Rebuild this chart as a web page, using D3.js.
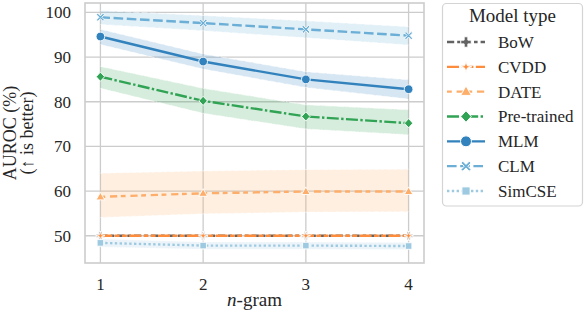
<!DOCTYPE html>
<html>
<head>
<meta charset="utf-8">
<script src="https://cdn.jsdelivr.net/npm/d3@7"></script>
<style>
  body { margin: 0; background: #fff; }
</style>
</head>
<body>
<svg id="chart" width="584" height="312"></svg>
<script>
// n-gram sizes
var ngrams = [1, 2, 3, 4];
var yTicks = [50, 60, 70, 80, 90, 100];
var modelTypes = ["BoW", "CVDD", "DATE", "Pre-trained", "MLM", "CLM", "SimCSE"];

// mean AUROC per model type
var bowMean = [50.0, 50.0, 50.0, 50.0];
var cvddMean = [50.0, 50.0, 50.0, 50.0];
var dateMean = [58.7, 59.5, 59.9, 59.9];
var pretrainedMean = [85.6, 80.2, 76.7, 75.2];
var mlmMean = [94.6, 89.0, 85.0, 82.8];
var clmMean = [98.9, 97.6, 96.2, 94.8];
var simcseMean = [48.4, 47.8, 47.8, 47.7];

// error band lower / upper
var bowLo = [50.0, 50.0, 50.0, 50.0], bowHi = [50.0, 50.0, 50.0, 50.0];
var cvddLo = [50.0, 50.0, 50.0, 50.0], cvddHi = [50.0, 50.0, 50.0, 50.0];
var dateLo = [54.1, 54.9, 55.3, 55.4], dateHi = [64.0, 64.5, 64.8, 64.9];
var pretrainedLo = [83.0, 77.4, 73.9, 72.6], pretrainedHi = [87.9, 83.0, 79.3, 78.2];
var mlmLo = [92.8, 87.3, 83.2, 80.6], mlmHi = [96.2, 90.7, 86.7, 84.9];
var clmLo = [97.3, 95.9, 94.3, 92.7], clmHi = [100.4, 99.3, 98.1, 96.8];
var simcseLo = [47.5, 47.0, 47.0, 46.9], simcseHi = [49.3, 48.6, 48.6, 48.5];

var series = [
  {name: "BoW", mean: bowMean, lo: bowLo, hi: bowHi, color: "#636363", dash: [3, 1.25, 1.5, 1.25], marker: "plus"},
  {name: "CVDD", mean: cvddMean, lo: cvddLo, hi: cvddHi, color: "#fd8d3c", dash: [5, 1, 2, 1, 2, 1], marker: "star"},
  {name: "DATE", mean: dateMean, lo: dateLo, hi: dateHi, color: "#fdae6b", dash: [2, 2, 3, 1.5], marker: "triangle"},
  {name: "Pre-trained", mean: pretrainedMean, lo: pretrainedLo, hi: pretrainedHi, color: "#31a354", dash: [5, 1, 1, 1], marker: "diamond"},
  {name: "MLM", mean: mlmMean, lo: mlmLo, hi: mlmHi, color: "#3182bd", dash: null, marker: "circle"},
  {name: "CLM", mean: clmMean, lo: clmLo, hi: clmHi, color: "#6baed6", dash: [4, 1.5], marker: "cross"},
  {name: "SimCSE", mean: simcseMean, lo: simcseLo, hi: simcseHi, color: "#9ecae1", dash: [1, 1], marker: "square"}
];

var FONT = "'Liberation Serif', 'Times New Roman', serif";
var svg = d3.select("#chart");
var lw = 2.4;
var gridColor = "#cccccc";
var textColor = "#262626";

var x = d3.scaleLinear().domain([0.85, 4.15]).range([85, 424]);
var y = d3.scaleLinear().domain([43.9, 102.1]).range([263, 3]);

// inline text styling
function styleText(sel, size) {
  return sel.style("font-family", FONT).style("font-size", size + "px").style("fill", textColor);
}

function dashStr(d, w) {
  if (!d) return null;
  return d.map(function(v){ return v * w; }).join(",");
}

// marker path for a given shape, centered at 0,0
function markerPath(shape) {
  switch (shape) {
    case "circle": return d3.symbol(d3.symbolCircle, 60)();
    case "square": return "M-3.3,-3.3L3.3,-3.3L3.3,3.3L-3.3,3.3Z";
    case "triangle": return "M0,-4.6L4.3,3L-4.3,3Z";
    case "diamond": return "M0,-4.6L4.2,0L0,4.6L-4.2,0Z";
    case "cross": return "M-4,-2.6L-2.6,-4L0,-1.4L2.6,-4L4,-2.6L1.4,0L4,2.6L2.6,4L0,1.4L-2.6,4L-4,2.6L-1.4,0Z";
    case "plus": return "M-1.5,-4.2L1.5,-4.2L1.5,-1.5L4.2,-1.5L4.2,1.5L1.5,1.5L1.5,4.2L-1.5,4.2L-1.5,1.5L-4.2,1.5L-4.2,-1.5L-1.5,-1.5Z";
    case "star": return "M0,-4.6L1,-1L4.6,0L1,1L0,4.6L-1,1L-4.6,0L-1,-1Z";
  }
}

// grid
var grid = svg.append("g");
grid.selectAll(".gx").data(ngrams).enter().append("line")
  .attr("x1", function(d){ return x(d); }).attr("x2", function(d){ return x(d); })
  .attr("y1", 3).attr("y2", 263)
  .attr("stroke", gridColor).attr("stroke-width", 1.3);
grid.selectAll(".gy").data(yTicks).enter().append("line")
  .attr("y1", function(d){ return y(d); }).attr("y2", function(d){ return y(d); })
  .attr("x1", 85).attr("x2", 424)
  .attr("stroke", gridColor).attr("stroke-width", 1.3);

// bands
var bandArea = d3.area()
  .x(function(d){ return x(d.x); })
  .y0(function(d){ return y(d.lo); })
  .y1(function(d){ return y(d.hi); });
var edgeLine = d3.line().x(function(d){ return x(d.x); }).y(function(d){ return y(d.v); });

series.forEach(function(s){
  var pts = ngrams.map(function(n, i){ return {x: n, lo: s.lo[i], hi: s.hi[i]}; });
  if (d3.max(pts, function(p){ return p.hi - p.lo; }) <= 0) return;
  svg.append("path").datum(pts)
    .attr("d", bandArea)
    .attr("fill", s.color).attr("fill-opacity", 0.2);
  ["lo", "hi"].forEach(function(k){
    svg.append("path")
      .datum(ngrams.map(function(n, i){ return {x: n, v: s[k][i]}; }))
      .attr("d", edgeLine)
      .attr("fill", "none").attr("stroke", "#fff").attr("stroke-opacity", 0.7)
      .attr("stroke-width", 0.8)
      .attr("stroke-dasharray", dashStr(s.dash || [4, 1.5], 1.5));
  });
});

// lines + markers
var meanLine = d3.line().x(function(d){ return x(d.x); }).y(function(d){ return y(d.v); });
series.forEach(function(s){
  var pts = ngrams.map(function(n, i){ return {x: n, v: s.mean[i]}; });
  svg.append("path").datum(pts)
    .attr("d", meanLine)
    .attr("fill", "none").attr("stroke", s.color).attr("stroke-width", lw)
    .attr("stroke-dasharray", dashStr(s.dash, lw));
  svg.append("g").selectAll("path").data(pts).enter().append("path")
    .attr("d", markerPath(s.marker))
    .attr("transform", function(d){ return "translate(" + x(d.x) + "," + y(d.v) + ")"; })
    .attr("fill", s.color).attr("stroke", "#fff").attr("stroke-width", 0.9);
});

// spines
svg.append("rect").attr("x", 85).attr("y", 3).attr("width", 339).attr("height", 260)
  .attr("fill", "none").attr("stroke", gridColor).attr("stroke-width", 1.6);

// tick labels
styleText(svg.append("g").selectAll("text").data(yTicks).enter().append("text")
  .attr("x", 71).attr("y", function(d){ return y(d); }).attr("dy", "0.35em")
  .attr("text-anchor", "end"), 17)
  .text(function(d){ return d; });
styleText(svg.append("g").selectAll("text").data(ngrams).enter().append("text")
  .attr("x", function(d){ return x(d); }).attr("y", 284).attr("dy", "0.35em")
  .attr("text-anchor", "middle"), 17)
  .text(function(d){ return d; });

// axis labels
var xl = styleText(svg.append("text").attr("x", 254.5).attr("y", 306)
  .attr("text-anchor", "middle"), 19);
xl.append("tspan").style("font-style", "italic").text("n");
xl.append("tspan").text("-gram");

var yl = styleText(svg.append("text").attr("transform", "translate(16,133) rotate(-90)")
  .attr("text-anchor", "middle"), 18);
yl.append("tspan").attr("x", 0).attr("y", 0).text("AUROC (%)");
yl.append("tspan").attr("x", 0).attr("y", 16.5).text("(\u2191 is better)");

// legend
var lg = svg.append("g");
lg.append("rect").attr("x", 442.5).attr("y", 3.5).attr("width", 140).attr("height", 202.5)
  .attr("rx", 4).attr("fill", "#fff").attr("stroke", "#d4d4d4").attr("stroke-width", 1.2);
styleText(lg.append("text").attr("x", 512.5).attr("y", 22)
  .attr("text-anchor", "middle"), 19).text("Model type");

var legY = d3.scalePoint().domain(modelTypes).range([42, 191]);
series.forEach(function(s){
  var cy = legY(s.name);
  lg.append("line").attr("x1", 447).attr("x2", 485).attr("y1", cy).attr("y2", cy)
    .attr("stroke", s.color).attr("stroke-width", lw)
    .attr("stroke-dasharray", dashStr(s.dash, lw));
  lg.append("path").attr("d", markerPath(s.marker))
    .attr("transform", "translate(466," + cy + ") scale(1.25)")
    .attr("fill", s.color).attr("stroke", "#fff").attr("stroke-width", 0.8);
  styleText(lg.append("text").attr("x", 498).attr("y", cy).attr("dy", "0.35em"), 17)
    .text(s.name);
});
</script>
</body>
</html>
